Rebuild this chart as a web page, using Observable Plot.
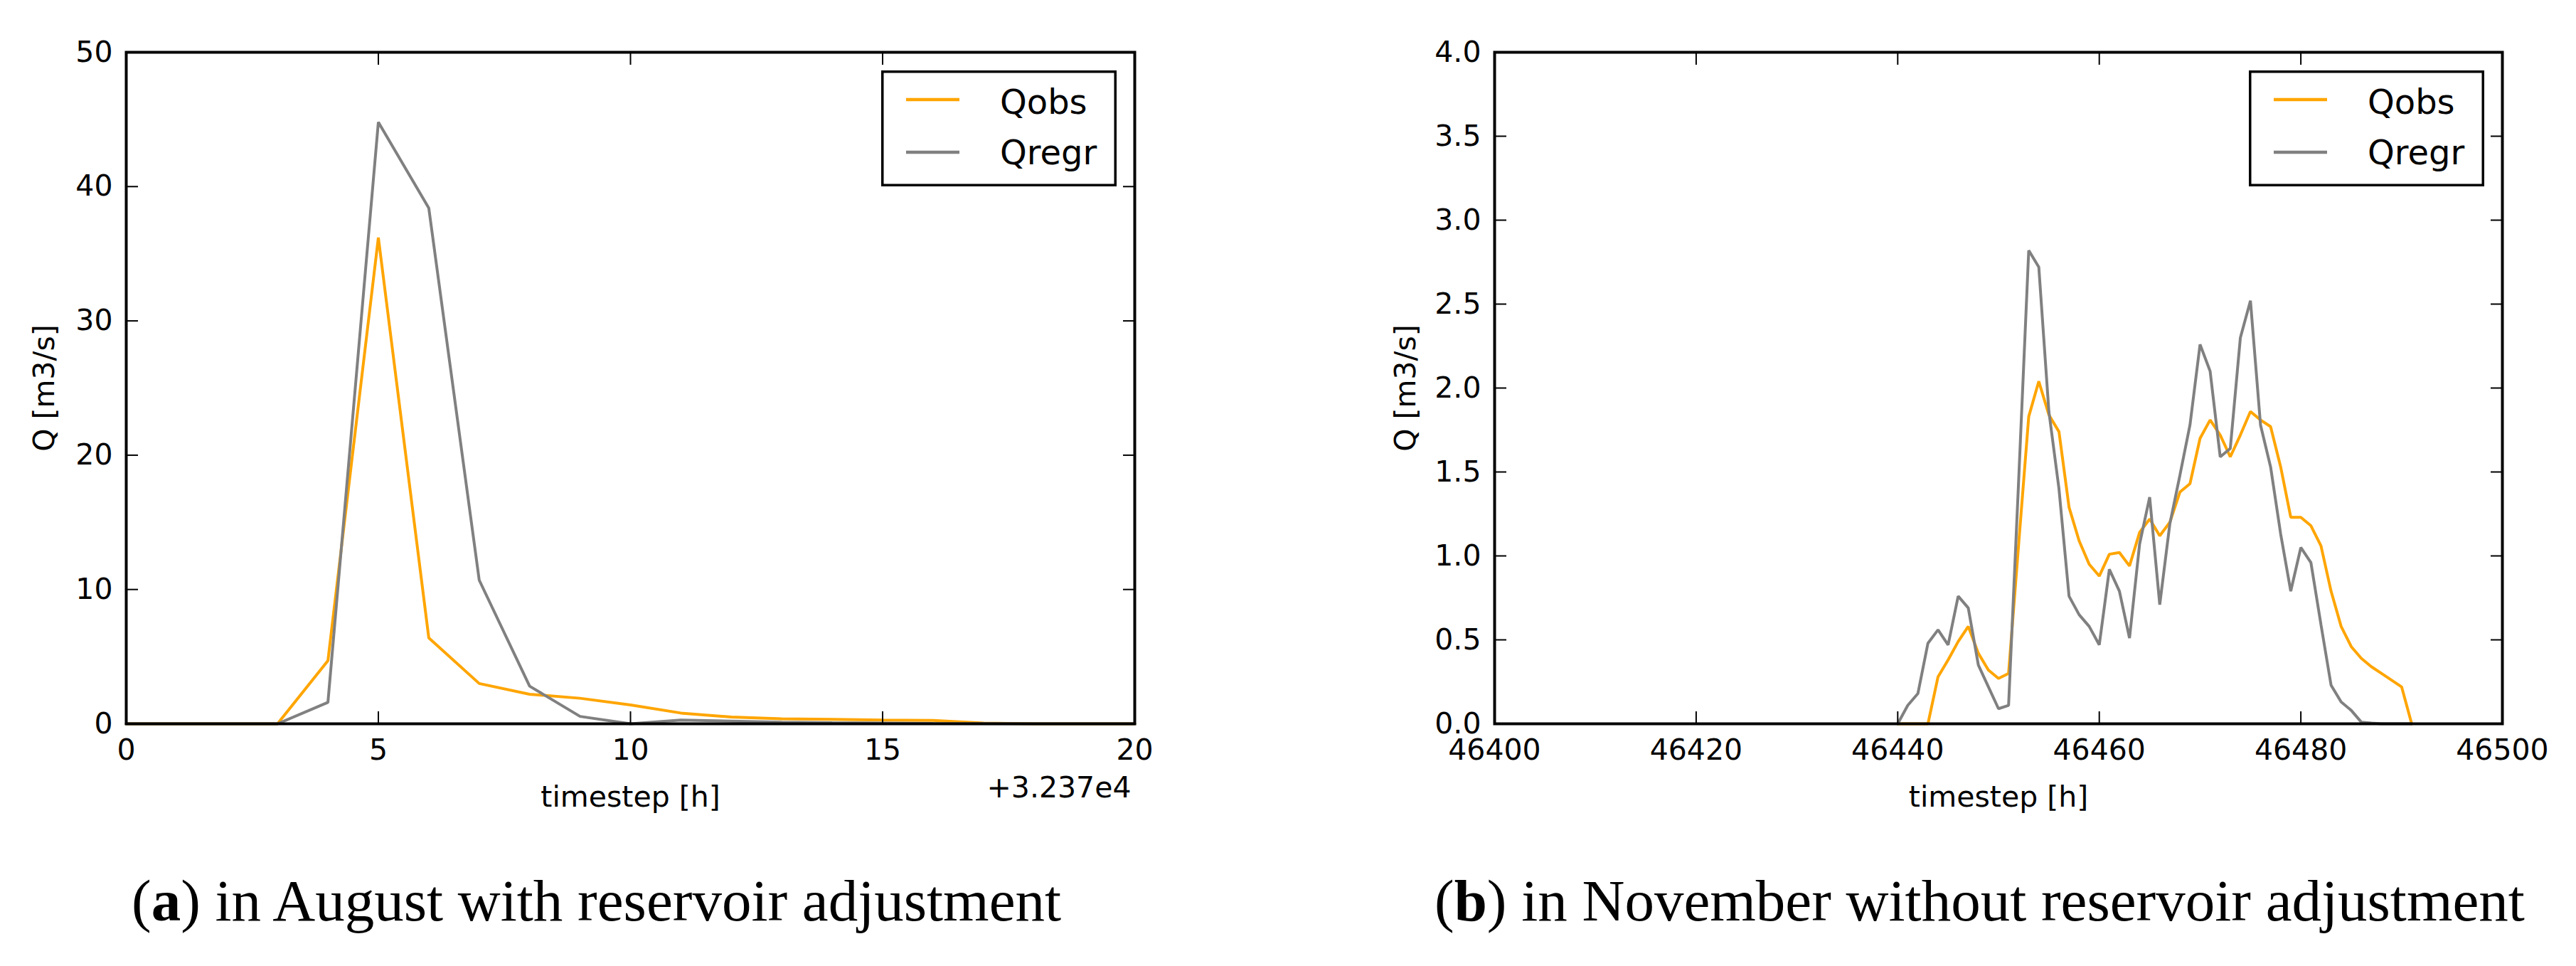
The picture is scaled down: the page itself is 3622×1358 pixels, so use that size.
<!DOCTYPE html>
<html>
<head>
<meta charset="utf-8">
<script src="https://cdn.jsdelivr.net/npm/d3@7"></script>
<script src="https://cdn.jsdelivr.net/npm/@observablehq/plot@0.6"></script>
<style>
html, body { margin: 0; padding: 0; background: #fff; }
#page { position: relative; width: 3622px; height: 1358px; overflow: hidden; background: #fff; }
.panel { position: absolute; top: 0; }
#overlay { position: absolute; left: 0; top: 0; }
</style>
</head>
<body>
<div id="page"></div>
<script>
// ---------- Data (a): August, with reservoir adjustment ----------
const hoursA = [32370, 32371, 32372, 32373, 32374, 32375, 32376, 32377, 32378, 32379, 32380,
                32381, 32382, 32383, 32384, 32385, 32386, 32387, 32388, 32389, 32390];
const qobsA  = [0, 0, 0, 0, 4.7, 36.2, 6.4, 3.0, 2.2, 1.9, 1.4,
                0.8, 0.5, 0.37, 0.33, 0.28, 0.25, 0.05, 0, 0, 0];
const qregrA = [0, 0, 0, 0, 1.6, 44.8, 38.4, 10.7, 2.8, 0.55, 0.0,
                0.28, 0.2, 0.12, 0.08, 0.05, 0.02, 0.01, 0, 0, 0];
const xOffsetA = 32370;
const offsetLabelA = "+3.237e4";
const xTicksA = [0, 5, 10, 15, 20];
const yTicksA = [0, 10, 20, 30, 40, 50];

// ---------- Data (b): November, without reservoir adjustment ----------
const hoursB = [46440, 46441, 46442, 46443, 46444, 46445, 46446, 46447, 46448, 46449,
                46450, 46451, 46452, 46453, 46454, 46455, 46456, 46457, 46458, 46459,
                46460, 46461, 46462, 46463, 46464, 46465, 46466, 46467, 46468, 46469,
                46470, 46471, 46472, 46473, 46474, 46475, 46476, 46477, 46478, 46479,
                46480, 46481, 46482, 46483, 46484, 46485, 46486, 46487, 46488, 46489,
                46490, 46491];
const qobsB  = [0, 0, 0, 0, 0.28, 0.38, 0.49, 0.58, 0.42, 0.32,
                0.27, 0.30, 1.07, 1.83, 2.04, 1.84, 1.74, 1.29, 1.09, 0.95,
                0.88, 1.01, 1.02, 0.94, 1.14, 1.22, 1.12, 1.20, 1.38, 1.43,
                1.70, 1.81, 1.72, 1.59, 1.72, 1.86, 1.81, 1.77, 1.53, 1.23,
                1.23, 1.18, 1.06, 0.79, 0.58, 0.46, 0.39, 0.34, 0.30, 0.26,
                0.22, 0];
const qregrB = [0, 0.11, 0.18, 0.48, 0.56, 0.47, 0.76, 0.69, 0.35, 0.22,
                0.09, 0.11, 1.45, 2.82, 2.72, 1.86, 1.40, 0.76, 0.65, 0.58,
                0.47, 0.92, 0.79, 0.51, 1.07, 1.35, 0.71, 1.19, 1.48, 1.78,
                2.26, 2.10, 1.59, 1.64, 2.30, 2.52, 1.78, 1.53, 1.13, 0.79,
                1.05, 0.96, 0.59, 0.23, 0.13, 0.08, 0.01, 0.004, 0, 0,
                0, 0];
const xTicksB = [46400, 46420, 46440, 46460, 46480, 46500];
const yTicksB = [0, 0.5, 1.0, 1.5, 2.0, 2.5, 3.0, 3.5, 4.0];

const seriesNames = ["Qobs", "Qregr"];
const seriesColors = ["orange", "gray"];
const yLabel = "Q [m3/s]";
const xLabel = "timestep [h]";
const captions = [
  {label: "a", text: " in August with reservoir adjustment"},
  {label: "b", text: " in November without reservoir adjustment"}
];

// ---------- Layout ----------
const FONT = "DejaVu Sans";
const SVG_H = 1150, M_TOP = 73, M_BOTTOM = 133;

function panel({hours, obs, regr, xDomain, yDomain, xTicks, yTicks, xFmt, yFmt,
                width, marginLeft, marginRight, yLabelDx, offsetLabel}) {
  const obsRows = hours.map((h, i) => ({h, q: obs[i]}));
  const regrRows = hours.map((h, i) => ({h, q: regr[i]}));
  const tickStyle = {tickSize: -17, tickFormat: () => "", label: null, strokeWidth: 2};
  const marks = [
    Plot.line(obsRows, {x: "h", y: "q", stroke: seriesColors[0], strokeWidth: 4, strokeLinejoin: "miter"}),
    Plot.line(regrRows, {x: "h", y: "q", stroke: seriesColors[1], strokeWidth: 4, strokeLinejoin: "miter"}),
    Plot.axisX(xTicks, {anchor: "bottom", ...tickStyle}),
    Plot.axisX(xTicks, {anchor: "top", ...tickStyle}),
    Plot.axisY(yTicks, {anchor: "left", ...tickStyle}),
    Plot.axisY(yTicks, {anchor: "right", ...tickStyle}),
    Plot.axisX(xTicks, {anchor: "bottom", tickSize: 0, tickPadding: 21, tickFormat: xFmt, label: null, fill: "black"}),
    Plot.axisY(yTicks, {anchor: "left", tickSize: 0, tickPadding: 19, tickFormat: yFmt, label: null, fill: "black"}),
    Plot.frame({stroke: "black", strokeWidth: 4}),
    Plot.text([xLabel], {text: d => d, frameAnchor: "bottom", dy: 103, lineAnchor: "middle", fill: "black"}),
    Plot.text([yLabel], {text: d => d, frameAnchor: "left", rotate: -90, dx: yLabelDx, lineAnchor: "middle", textAnchor: "middle", fill: "black"})
  ];
  if (offsetLabel) {
    marks.push(Plot.text([offsetLabel], {text: d => d, frameAnchor: "bottom-right", dx: -5, dy: 90,
                                         textAnchor: "end", lineAnchor: "middle", fill: "black"}));
  }
  return Plot.plot({
    width, height: SVG_H,
    marginLeft, marginRight, marginTop: M_TOP, marginBottom: M_BOTTOM,
    style: {fontFamily: FONT, fontSize: "41px", color: "black", background: "white", overflow: "visible"},
    x: {domain: xDomain, axis: null},
    y: {domain: yDomain, axis: null},
    marks
  });
}

const page = document.getElementById("page");

const pA = panel({
  hours: hoursA, obs: qobsA, regr: qregrA,
  xDomain: [xOffsetA + 0, xOffsetA + 20], yDomain: [0, 50],
  xTicks: xTicksA.map(t => t + xOffsetA), yTicks: yTicksA,
  xFmt: d => String(d - xOffsetA), yFmt: d => String(d),
  width: 1700, marginLeft: 177, marginRight: 105, yLabelDx: -115, offsetLabel: offsetLabelA
});
pA.classList.add("panel");
pA.style.left = "0px";
page.appendChild(pA);

const pB = panel({
  hours: hoursB, obs: qobsB, regr: qregrB,
  xDomain: [46400, 46500], yDomain: [0, 4],
  xTicks: xTicksB, yTicks: yTicksB,
  xFmt: d => String(d), yFmt: d => d.toFixed(1),
  width: 1772, marginLeft: 251, marginRight: 104, yLabelDx: -125, offsetLabel: null
});
pB.classList.add("panel");
pB.style.left = "1850px";
page.appendChild(pB);

// ---------- Legends and captions overlay ----------
const ns = "http://www.w3.org/2000/svg";
const ov = document.createElementNS(ns, "svg");
ov.setAttribute("id", "overlay");
ov.setAttribute("width", 3622);
ov.setAttribute("height", 1358);
page.appendChild(ov);

function el(name, attrs, parent) {
  const e = document.createElementNS(ns, name);
  for (const k in attrs) e.setAttribute(k, attrs[k]);
  (parent || ov).appendChild(e);
  return e;
}

function legend(frameRight) {
  const W = 331, H = 163;
  const left = frameRight - 25 - W, top = M_TOP + 26;
  const g = el("g", {transform: `translate(${left},${top})`});
  el("rect", {x: 1.75, y: 1.75, width: W - 3.5, height: H - 3.5, fill: "white", stroke: "black", "stroke-width": 3.5}, g);
  const rowsY = [41, 115], baseY = [61, 132];
  seriesNames.forEach((name, i) => {
    el("line", {x1: 35, x2: 110, y1: rowsY[i], y2: rowsY[i], stroke: seriesColors[i], "stroke-width": 4.5}, g);
    const t = el("text", {x: 167, y: baseY[i], "font-family": FONT, "font-size": 48, fill: "black"}, g);
    t.textContent = name;
  });
}
legend(1595);
legend(1850 + 1668);

const capX = [185, 2017];
captions.forEach((c, i) => {
  const t = el("text", {x: capX[i], y: 1294, "font-family": "Liberation Serif", "font-size": 83, fill: "black"});
  const a = el("tspan", {}, t); a.textContent = "(";
  const b = el("tspan", {"font-weight": "bold"}, t); b.textContent = c.label;
  const d = el("tspan", {}, t); d.textContent = ")" + c.text;
});
</script>
</body>
</html>
